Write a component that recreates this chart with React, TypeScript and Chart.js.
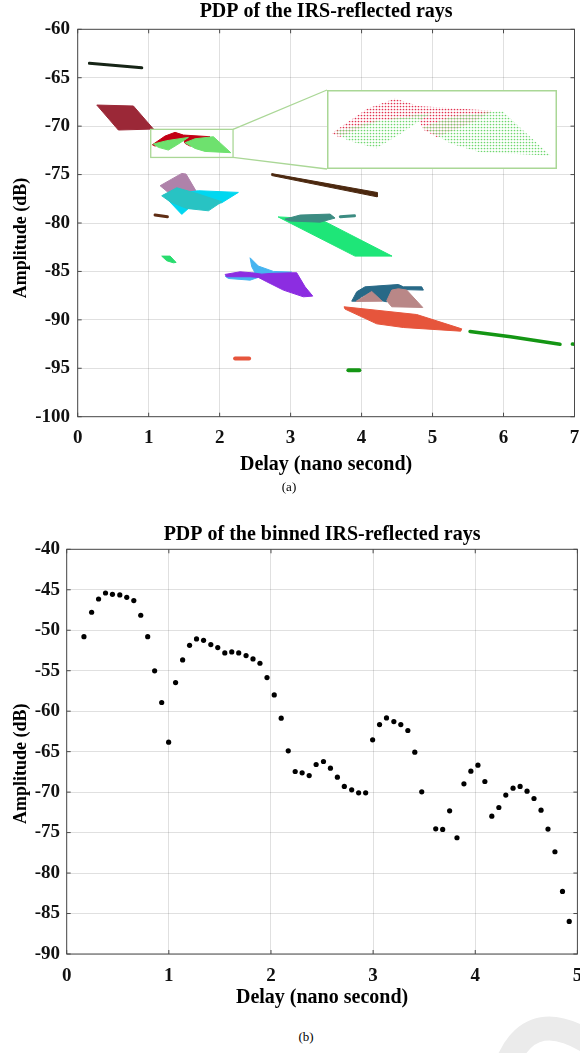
import React, { useEffect, useRef } from "react";
import { Chart, registerables } from "chart.js";

Chart.register(...registerables);

type Pt = [number, number];

// ---------------- Figure (a): PDP of the IRS-reflected rays ----------------
const rayDelayMin = 0;
const rayDelayMax = 7;
const rayAmpMin = -100;
const rayAmpMax = -60;

const blackStreak: Pt[] = [[0.165, -63.51], [0.903, -63.97]];
const maroonPatch: Pt[] = [[0.269, -67.82], [0.785, -67.92], [1.067, -70.3], [0.573, -70.4]];
const crimsonPatch: Pt[] = [
  [1.053, -71.92], [1.231, -71.02], [1.372, -70.64], [1.49, -70.92], [1.865, -71.09], [1.771, -71.5],
  [1.584, -72.06], [1.513, -71.78], [1.49, -71.37], [1.302, -71.44], [1.09, -72.06],
];
const limeLeftPatch: Pt[] = [[1.067, -71.85], [1.255, -71.5], [1.56, -71.16], [1.396, -71.95], [1.278, -72.47], [1.137, -72.19]];
const limeRightPatch: Pt[] = [[1.513, -71.71], [1.654, -71.3], [1.912, -71.09], [2.157, -72.74], [1.795, -72.61], [1.654, -72.3]];
const mauvePatch: Pt[] = [[1.161, -76.15], [1.466, -74.88], [1.527, -74.95], [1.701, -77.12], [1.302, -77.01]];
const cyanPatch: Pt[] = [[1.208, -77.12], [1.701, -76.67], [2.264, -76.84], [2.03, -77.91], [1.56, -78.5], [1.466, -79.11]];
const tealPatch: Pt[] = [[1.184, -77.19], [1.396, -76.36], [1.678, -76.95], [2.03, -77.81], [1.842, -78.74], [1.537, -78.5], [1.302, -77.81]];
const shortBrownStreak: Pt[] = [[1.09, -79.18], [1.264, -79.36]];
const longBrownPatch: Pt[] = [[2.734, -74.9], [4.22, -76.85], [4.22, -77.3], [2.734, -75.1]];
const springPatch: Pt[] = [[2.824, -79.37], [3.415, -79.6], [4.429, -83.42], [3.908, -83.42]];
const slatePatch: Pt[] = [[2.922, -79.6], [3.133, -79.18], [3.556, -79.08], [3.626, -79.49], [3.415, -79.91], [2.992, -79.8]];
const slateBit: Pt[] = [[3.7, -79.35], [3.9, -79.25]];
const mintBlob: Pt[] = [[1.184, -83.42], [1.302, -83.42], [1.386, -84.07], [1.348, -84.11], [1.255, -83.9]];
const skyPatch: Pt[] = [
  [2.429, -83.59], [2.546, -84.45], [2.758, -85.0], [3.016, -85.07], [2.898, -85.38], [2.664, -85.28], [2.57, -85.55],
  [2.429, -85.9], [2.124, -85.73], [2.077, -85.49], [2.288, -85.38], [2.499, -85.14], [2.452, -84.52],
];
const violetPatch: Pt[] = [
  [2.077, -85.31], [2.288, -85.04], [2.452, -85.14], [2.593, -85.28], [2.711, -85.21], [3.016, -85.14], [3.086, -85.14],
  [3.204, -86.59], [3.312, -87.55], [3.18, -87.62], [2.898, -86.93], [2.664, -86.07], [2.546, -85.62], [2.429, -85.55], [2.1, -85.55],
];
const navyTealPatch: Pt[] = [
  [3.861, -88.07], [3.932, -87.1], [4.049, -86.59], [4.519, -86.35], [4.589, -86.59], [4.847, -86.59], [4.871, -86.93],
  [4.519, -86.86], [4.425, -87.1], [4.354, -88.14], [4.284, -88.03], [4.143, -87.1], [4.002, -87.62], [3.922, -88.07],
];
const roseTriangle: Pt[] = [[3.922, -88.1], [4.143, -87.07], [4.289, -88.07]];
const roseQuad: Pt[] = [[4.354, -88.03], [4.425, -86.93], [4.519, -86.79], [4.636, -86.93], [4.862, -88.72], [4.425, -88.65]];
const coralPatch: Pt[] = [[3.753, -88.65], [4.777, -89.45], [5.411, -90.93], [5.397, -91.17], [4.589, -90.79], [4.213, -90.41], [3.767, -88.89]];
const forestStreak: Pt[] = [[5.528, -91.2], [6.1, -91.75], [6.796, -92.51]];
const forestDot: Pt[] = [[6.97, -92.5], [7.0, -92.52]];
const coralBlob: Pt[] = [[2.218, -93.99], [2.415, -93.99]];
const forestBlob: Pt[] = [[3.814, -95.2], [3.969, -95.2]];

// zoomed window shown in the inset
const zoomDelay: Pt = [1.029, 2.189];
const zoomAmp: Pt = [-73.23, -70.33];

// ---------------- Figure (b): PDP of the binned IRS-reflected rays ----------------
const binDelayMin = 0;
const binDelayMax = 5;
const binAmpMin = -90;
const binAmpMax = -40;
const binDelay = [
  0.169, 0.244, 0.312, 0.38, 0.448, 0.52, 0.588, 0.657, 0.725, 0.793,
  0.861, 0.93, 0.998, 1.066, 1.135, 1.203, 1.271, 1.34, 1.411, 1.479,
  1.548, 1.616, 1.684, 1.756, 1.824, 1.892, 1.961, 2.032, 2.1, 2.169,
  2.237, 2.305, 2.374, 2.442, 2.514, 2.582, 2.65, 2.718, 2.79, 2.858,
  2.927, 2.995, 3.063, 3.131, 3.203, 3.271, 3.34, 3.408, 3.476, 3.613,
  3.681, 3.749, 3.821, 3.889, 3.957, 4.026, 4.094, 4.162, 4.231, 4.299,
  4.37, 4.439, 4.507, 4.575, 4.644, 4.712, 4.78, 4.854, 4.92,
];
const binAmp = [
  -50.79, -47.78, -46.14, -45.4, -45.56, -45.64, -45.93, -46.34, -48.15, -50.79,
  -55.02, -58.93, -63.83, -56.47, -53.67, -51.86, -51.07, -51.24, -51.77, -52.14,
  -52.8, -52.68, -52.8, -53.13, -53.54, -54.08, -55.85, -57.99, -60.87, -64.9,
  -67.45, -67.62, -67.95, -66.59, -66.22, -67.04, -68.15, -69.3, -69.72, -70.09,
  -70.09, -63.54, -61.65, -60.83, -61.28, -61.65, -62.39, -65.07, -69.96, -74.53,
  -74.61, -72.31, -75.64, -68.98, -67.41, -66.67, -68.69, -72.97, -71.9, -70.37,
  -69.51, -69.3, -69.88, -70.79, -72.23, -74.57, -77.37, -82.27, -85.97,
];

// ---------------- styling ----------------
const FONT = "'Liberation Serif', 'Times New Roman', serif";
const GRID = "rgba(38,38,38,0.14)";
const AXIS = "#4a4a4a";
const ZOOM_GREEN = "rgb(170,215,150)";

type Layer = { pts: Pt[]; color: string; kind: "fill" | "line"; width?: number };

const rayLayers: Layer[] = [
  { pts: blackStreak, color: "rgb(22,36,22)", kind: "line", width: 3 },
  { pts: maroonPatch, color: "rgb(155,40,55)", kind: "fill" },
  { pts: crimsonPatch, color: "rgb(195,0,20)", kind: "fill" },
  { pts: limeLeftPatch, color: "rgb(110,225,110)", kind: "fill" },
  { pts: limeRightPatch, color: "rgb(110,225,110)", kind: "fill" },
  { pts: mauvePatch, color: "rgb(175,130,170)", kind: "fill" },
  { pts: cyanPatch, color: "rgb(0,215,240)", kind: "fill" },
  { pts: tealPatch, color: "rgb(40,195,195)", kind: "fill" },
  { pts: shortBrownStreak, color: "rgb(95,45,20)", kind: "line", width: 3 },
  { pts: longBrownPatch, color: "rgb(75,40,15)", kind: "fill" },
  { pts: springPatch, color: "rgb(30,230,120)", kind: "fill" },
  { pts: slatePatch, color: "rgb(60,140,130)", kind: "fill" },
  { pts: slateBit, color: "rgb(60,140,130)", kind: "line", width: 3 },
  { pts: mintBlob, color: "rgb(40,220,110)", kind: "fill" },
  { pts: skyPatch, color: "rgb(70,180,240)", kind: "fill" },
  { pts: violetPatch, color: "rgb(140,45,225)", kind: "fill" },
  { pts: navyTealPatch, color: "rgb(40,105,135)", kind: "fill" },
  { pts: roseTriangle, color: "rgb(185,135,135)", kind: "fill" },
  { pts: roseQuad, color: "rgb(185,135,135)", kind: "fill" },
  { pts: coralPatch, color: "rgb(230,85,60)", kind: "fill" },
  { pts: forestStreak, color: "rgb(20,150,20)", kind: "line", width: 3.5 },
  { pts: forestDot, color: "rgb(20,150,20)", kind: "line", width: 3.5 },
  { pts: coralBlob, color: "rgb(230,85,60)", kind: "line", width: 4 },
  { pts: forestBlob, color: "rgb(20,150,20)", kind: "line", width: 4 },
];

function toXY(pts: Pt[]) {
  return pts.map(([x, y]) => ({ x, y }));
}

function layerDatasets(layers: Layer[], fillFor?: (l: Layer) => any) {
  const n = layers.length;
  return layers.map((l, i) => {
    if (l.kind === "fill") {
      const bg = fillFor ? fillFor(l) : l.color;
      return {
        data: toXY([...l.pts, l.pts[0]]),
        showLine: true,
        fill: "shape",
        backgroundColor: bg,
        borderColor: fillFor ? "rgba(0,0,0,0)" : l.color,
        borderWidth: fillFor ? 0 : 1,
        pointRadius: 0,
        pointHoverRadius: 0,
        tension: 0,
        order: n - i,
      };
    }
    return {
      data: toXY(l.pts),
      showLine: true,
      fill: false,
      borderColor: l.color,
      borderWidth: l.width || 3,
      borderCapStyle: "round",
      pointRadius: 0,
      pointHoverRadius: 0,
      tension: 0,
      order: n - i,
    };
  });
}

type DecorOpts = {
  title: string;
  titleY: number;
  xTitle: string;
  xTitleY: number;
  yTitle: string;
  yTitleX: number;
  yTitleShift: number;
};

function makeDecor(o: DecorOpts) {
  return {
    id: "decor",
    afterDatasetsDraw(chart: any) {
      const { ctx, chartArea: a } = chart;
      const xs = chart.scales.x;
      const ys = chart.scales.y;
      ctx.save();
      ctx.strokeStyle = AXIS;
      ctx.lineWidth = 1;
      ctx.strokeRect(a.left, a.top, a.right - a.left, a.bottom - a.top);
      const tl = 4;
      ctx.beginPath();
      xs.ticks.forEach((t: any) => {
        const p = xs.getPixelForValue(t.value);
        ctx.moveTo(p, a.bottom);
        ctx.lineTo(p, a.bottom - tl);
        ctx.moveTo(p, a.top);
        ctx.lineTo(p, a.top + tl);
      });
      ys.ticks.forEach((t: any) => {
        const p = ys.getPixelForValue(t.value);
        ctx.moveTo(a.left, p);
        ctx.lineTo(a.left + tl, p);
        ctx.moveTo(a.right, p);
        ctx.lineTo(a.right - tl, p);
      });
      ctx.stroke();
      ctx.fillStyle = "#000";
      ctx.textAlign = "center";
      ctx.textBaseline = "middle";
      ctx.font = `bold 20px ${FONT}`;
      const cx = (a.left + a.right) / 2;
      ctx.fillText(o.title, cx, o.titleY);
      ctx.fillText(o.xTitle, cx, o.xTitleY);
      ctx.translate(o.yTitleX, (a.top + a.bottom) / 2 + o.yTitleShift);
      ctx.rotate(-Math.PI / 2);
      ctx.font = `bold 18px ${FONT}`;
      ctx.fillText(o.yTitle, 0, 0);
      ctx.restore();
    },
  };
}

function axisOptions(
  xmin: number, xmax: number, ymin: number, ymax: number,
  yWidth: number, xHeight: number, yPad: number, xPad: number
) {
  const tickFont = { family: FONT, size: 19, weight: "bold" as const };
  return {
    x: {
      type: "linear" as const,
      min: xmin,
      max: xmax,
      ticks: { stepSize: 1, padding: xPad, color: "#111", font: tickFont, maxRotation: 0, autoSkip: false },
      grid: { color: GRID, drawTicks: false, lineWidth: 1 },
      border: { display: false },
      afterFit: (s: any) => {
        s.height = xHeight;
        s.paddingLeft = 0;
        s.paddingRight = 0;
      },
    },
    y: {
      type: "linear" as const,
      min: ymin,
      max: ymax,
      ticks: { stepSize: 5, padding: yPad, color: "#111", font: tickFont, autoSkip: false },
      grid: { color: GRID, drawTicks: false, lineWidth: 1 },
      border: { display: false },
      afterFit: (s: any) => {
        s.width = yWidth;
        s.paddingTop = 0;
        s.paddingBottom = 0;
      },
    },
  };
}

const INSET = { left: 327, top: 90, width: 230, height: 79 };

export default function App() {
  const aRef = useRef<HTMLCanvasElement>(null);
  const insetRef = useRef<HTMLCanvasElement>(null);
  const bRef = useRef<HTMLCanvasElement>(null);

  useEffect(() => {
    const charts: Chart[] = [];

    // ---- (a) main chart ----
    const zoomGuide = {
      id: "zoomGuide",
      afterDatasetsDraw(chart: any) {
        const { ctx } = chart;
        const xs = chart.scales.x;
        const ys = chart.scales.y;
        const x0 = xs.getPixelForValue(zoomDelay[0]);
        const x1 = xs.getPixelForValue(zoomDelay[1]);
        const y0 = ys.getPixelForValue(zoomAmp[1]);
        const y1 = ys.getPixelForValue(zoomAmp[0]);
        ctx.save();
        ctx.strokeStyle = ZOOM_GREEN;
        ctx.lineWidth = 1.3;
        ctx.strokeRect(x0, y0, x1 - x0, y1 - y0);
        ctx.beginPath();
        ctx.moveTo(x1, y0);
        ctx.lineTo(INSET.left, INSET.top);
        ctx.moveTo(x1, y1);
        ctx.lineTo(INSET.left, INSET.top + INSET.height);
        ctx.stroke();
        ctx.restore();
      },
    };

    if (aRef.current) {
      charts.push(
        new Chart(aRef.current, {
          type: "scatter",
          data: { datasets: layerDatasets(rayLayers) as any },
          options: {
            responsive: false,
            animation: false,
            devicePixelRatio: 1,
            events: [],
            layout: { padding: { top: 29.3, right: 5.5, left: 0, bottom: 0 } },
            plugins: { legend: { display: false }, tooltip: { enabled: false }, title: { display: false } },
            scales: axisOptions(rayDelayMin, rayDelayMax, rayAmpMin, rayAmpMax, 77.7, 63.3, 7.7, 10) as any,
          },
          plugins: [
            zoomGuide,
            makeDecor({
              title: "PDP of the IRS-reflected rays",
              titleY: 12,
              xTitle: "Delay (nano second)",
              xTitleY: 465,
              yTitle: "Amplitude (dB)",
              yTitleX: 21,
              yTitleShift: 15,
            }),
          ],
        })
      );
    }

    // ---- (a) inset ----
    if (insetRef.current) {
      const ictx = insetRef.current.getContext("2d")!;
      const makePattern = (color: string) => {
        const tile = document.createElement("canvas");
        tile.width = 3;
        tile.height = 3;
        const g = tile.getContext("2d")!;
        g.fillStyle = color;
        g.beginPath();
        g.arc(1.5, 1.5, 0.85, 0, Math.PI * 2);
        g.fill();
        return ictx.createPattern(tile, "repeat") || color;
      };
      const redDots = makePattern("rgb(225,50,80)");
      const greenDots = makePattern("rgb(110,215,110)");
      const insetLayers: Layer[] = [
        { pts: crimsonPatch, color: "red", kind: "fill" },
        { pts: limeLeftPatch, color: "green", kind: "fill" },
        { pts: limeRightPatch, color: "green", kind: "fill" },
      ];
      const insetFrame = {
        id: "insetFrame",
        beforeDraw(chart: any) {
          const c = chart.ctx;
          c.save();
          c.fillStyle = "#fff";
          c.fillRect(0, 0, chart.width, chart.height);
          c.restore();
        },
        afterDraw(chart: any) {
          const c = chart.ctx;
          c.save();
          c.strokeStyle = ZOOM_GREEN;
          c.lineWidth = 1.5;
          c.strokeRect(0.75, 0.75, chart.width - 1.5, chart.height - 1.5);
          c.restore();
        },
      };
      charts.push(
        new Chart(insetRef.current, {
          type: "scatter",
          data: {
            datasets: layerDatasets(insetLayers, (l) => (l.color === "red" ? redDots : greenDots)) as any,
          },
          options: {
            responsive: false,
            animation: false,
            devicePixelRatio: 1,
            events: [],
            layout: { padding: 0 },
            plugins: { legend: { display: false }, tooltip: { enabled: false } },
            scales: {
              x: { type: "linear", display: false, min: zoomDelay[0], max: zoomDelay[1] },
              y: { type: "linear", display: false, min: zoomAmp[0], max: zoomAmp[1] },
            },
          },
          plugins: [insetFrame],
        })
      );
    }

    // ---- (b) ----
    if (bRef.current) {
      charts.push(
        new Chart(bRef.current, {
          type: "scatter",
          data: {
            datasets: [
              {
                data: binDelay.map((x, i) => ({ x, y: binAmp[i] })),
                pointRadius: 2.6,
                pointHoverRadius: 2.6,
                backgroundColor: "#000",
                borderWidth: 0,
              },
            ],
          },
          options: {
            responsive: false,
            animation: false,
            devicePixelRatio: 1,
            events: [],
            layout: { padding: { top: 35.3, right: 0.7, left: 0, bottom: 0 } },
            plugins: { legend: { display: false }, tooltip: { enabled: false }, title: { display: false } },
            scales: axisOptions(binDelayMin, binDelayMax, binAmpMin, binAmpMax, 66.7, 60, 6.7, 10.6) as any,
          },
          plugins: [
            makeDecor({
              title: "PDP of the binned IRS-reflected rays",
              titleY: 21,
              xTitle: "Delay (nano second)",
              xTitleY: 484,
              yTitle: "Amplitude (dB)",
              yTitleX: 21,
              yTitleShift: 12,
            }),
          ],
        })
      );
    }

    return () => charts.forEach((c) => c.destroy());
  }, []);

  const caption = (top: number, left: number): React.CSSProperties => ({
    position: "absolute",
    top,
    left,
    width: 40,
    marginLeft: -20,
    textAlign: "center",
    fontFamily: FONT,
    fontSize: 13,
    lineHeight: "16px",
    color: "#000",
  });

  return (
    <div
      style={{
        position: "absolute",
        left: 0,
        top: 0,
        width: 580,
        height: 1053,
        overflow: "hidden",
        background: "#fff",
      }}
    >
      <canvas ref={aRef} width={580} height={480} style={{ position: "absolute", left: 0, top: 0, width: 580, height: 480 }} />
      <canvas
        ref={insetRef}
        width={INSET.width}
        height={INSET.height}
        style={{ position: "absolute", left: INSET.left, top: INSET.top, width: INSET.width, height: INSET.height }}
      />
      <div style={caption(479, 289)}>(a)</div>
      <canvas ref={bRef} width={580} height={500} style={{ position: "absolute", left: 0, top: 514, width: 580, height: 500 }} />
      <div style={caption(1029, 306)}>(b)</div>
      <svg width={580} height={1053} style={{ position: "absolute", left: 0, top: 0, pointerEvents: "none" }}>
        <path d="M 506 1066 Q 532 1000 600 1050" stroke="#ebebeb" strokeWidth={24} fill="none" />
      </svg>
    </div>
  );
}
